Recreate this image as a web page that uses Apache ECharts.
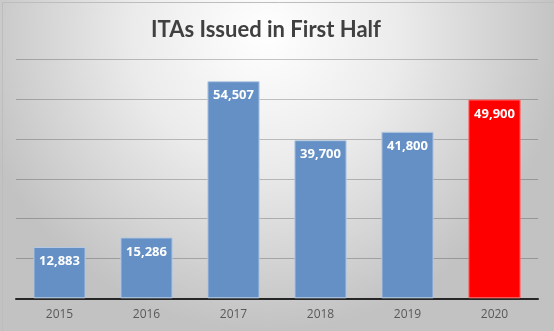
<!DOCTYPE html>
<html><head><meta charset="utf-8">
<script src="https://cdn.jsdelivr.net/npm/echarts@6/dist/echarts.min.js"></script>
<style>html,body{margin:0;padding:0;}#c{width:554px;height:331px;}</style>
</head><body><div id="c"></div>
<script>
const categories = ['2015','2016','2017','2018','2019','2020'];
const values = [12883, 15286, 54507, 39700, 41800, 49900];
const titleText = 'ITAs Issued in First Half';
const highlightIndex = 5;

const chart = echarts.init(document.getElementById('c'));
chart.setOption({
  backgroundColor: {type:'radial', x:0.48, y:0.1, r:0.9, colorStops:[
    {offset:0, color:'#ffffff'}, {offset:0.45, color:'#ebebeb'}, {offset:1, color:'#c2c2c2'}]},
  animation:false,
  graphic:[{type:'rect', left:0, top:0, shape:{width:553, height:330}, style:{fill:'none', stroke:'#bdbdbd', lineWidth:1}, silent:true}],
  title:{text:titleText, left:146, top:14, textStyle:{fontFamily:'Lato', fontSize:22, fontWeight:'bold', color:'#404040'}},
  grid:{left:16, right:16, top:59.3, bottom:32.7},
  xAxis:{type:'category', data:categories,
    axisLine:{lineStyle:{color:'#262626', width:2}}, axisTick:{show:false},
    axisLabel:{color:'#595959', fontSize:12, fontFamily:'Open Sans', margin:10}},
  yAxis:{type:'value', min:0, max:60000, interval:10000, axisLabel:{show:false},
    axisLine:{show:false}, axisTick:{show:false},
    splitLine:{lineStyle:{color:'rgba(0,0,0,0.22)', width:1}}},
  series:[{type:'bar', barWidth:'60%',
    data: values.map((v,i)=>({value:v, itemStyle: i===highlightIndex ? {color:'#ff0000', borderColor:'#ff6a6a', borderWidth:1} : {color:'#6590c5', borderColor:'#b7cbe3', borderWidth:1}})),
    label:{show:true, position:'insideTop', distance:8, color:'#ffffff', fontWeight:'bold', fontSize:13, fontFamily:'Open Sans',
      formatter:p=>p.value.toLocaleString('en-US')}}]
});
</script></body></html>
